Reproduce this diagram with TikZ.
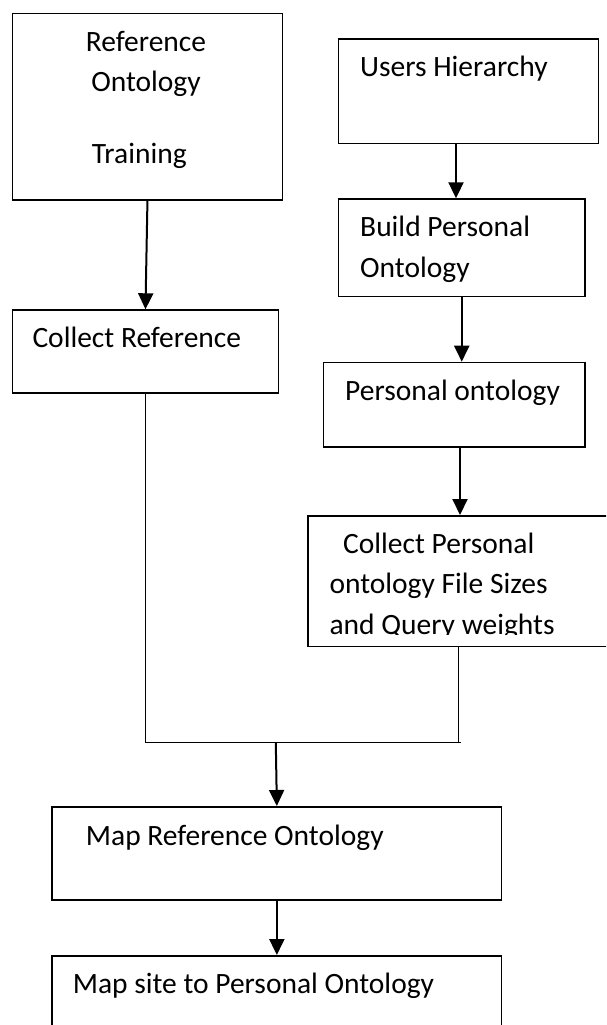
\documentclass[tikz,border=0pt]{standalone}
\usepackage{fontspec}
\setmainfont{Carlito}
\usetikzlibrary{arrows.meta}

\tikzset{
  box/.style={draw=black, line width=1.5pt, inner sep=0pt, anchor=north west},
  lbl/.style={inner sep=0pt, font=\fontsize{29.5}{35}\selectfont},
  arr/.style={line width=2pt, -{Triangle[length=16pt, width=15pt]}},
  link/.style={line width=1.5pt},
}

% rectangle given by its top-left and bottom-right corners
\newcommand{\flowbox}[5]{%
  \node[box, minimum width={#4-#2}, minimum height={#5-#3}] (#1) at (#2,#3) {};}

\begin{document}
\begin{tikzpicture}[x=1pt, y=-1pt]
\useasboundingbox (0,0) rectangle (606,1025);
\clip (0,0) rectangle (606,1025);

% boxes
\flowbox{reftrain}{11.7}{12.7}{281.7}{199}
\flowbox{users}{337.7}{38.3}{597.7}{142.7}
\flowbox{build}{337.7}{198.3}{584.3}{295.7}
\flowbox{collref}{11.7}{309.3}{277.7}{392.3}
\flowbox{personal}{322.7}{361.7}{584.3}{446}
\flowbox{collpers}{307.3}{515}{625}{645.7}
\flowbox{mapref}{51.4}{806}{500.8}{899.3}
\flowbox{mapsite}{51.4}{955}{500.8}{1070}

% labels
\node[lbl, anchor=base] (t1a) at (146,51.7) {Reference};
\node[lbl, anchor=base] (t1b) at (146,91.2) {Ontology};
\node[lbl, anchor=base west] (t1c) at (91.7,163.3) {Training};
\node[lbl, anchor=base west] (t2) at (360,76.7) {Users Hierarchy};
\node[lbl, anchor=base west] (t3a) at (360,236.7) {Build Personal};
\node[lbl, anchor=base west] (t3b) at (360,277.2) {Ontology};
\node[lbl, anchor=base west] (t4) at (32.3,347.7) {Collect Reference};
\node[lbl, anchor=base west] (t5) at (345,400.5) {Personal ontology};
\node[lbl, anchor=base west] (t6a) at (343,553.3) {Collect Personal};
\node[lbl, anchor=base west] (t6b) at (329.3,593.3) {ontology File Sizes};
\begin{scope}
  % the last line is cut off at the lower edge of its text area
  \clip (300,600) rectangle (606,634.3);
  \node[lbl, anchor=base west] (t6c) at (329.3,634.5) {and Query weights};
\end{scope}
\node[lbl, anchor=base west] (t7) at (85.7,845) {Map Reference Ontology};
\node[lbl, anchor=base west] (t8) at (72.6,993.3) {Map site to Personal Ontology};

% connector columns and join line
\coordinate (xu) at (456,0);
\coordinate (xp) at (460,0);
\coordinate (xl) at (145.5,0);
\coordinate (xr) at (458.5,0);
\coordinate (yj) at (0,742.7);
\coordinate (join) at (275.8,742.7);

% arrows
\draw[arr] (reftrain.south) -- (collref.north);
\draw[arr] (users.south -| xu) -- (build.north -| xu);
\draw[arr] (build.south) -- (personal.north -| build.south);
\draw[arr] (personal.south -| xp) -- (collpers.north -| xp);
\draw[link] (collref.south -| xl) -- (xl |- yj) -- (xr |- yj) -- (collpers.south -| xr);
\draw[link] (xr |- yj) -- ++(2,0);
\draw[arr] (join) -- (mapref.north);
\draw[arr] (mapref.south) -- (mapsite.north);
\end{tikzpicture}
\end{document}
